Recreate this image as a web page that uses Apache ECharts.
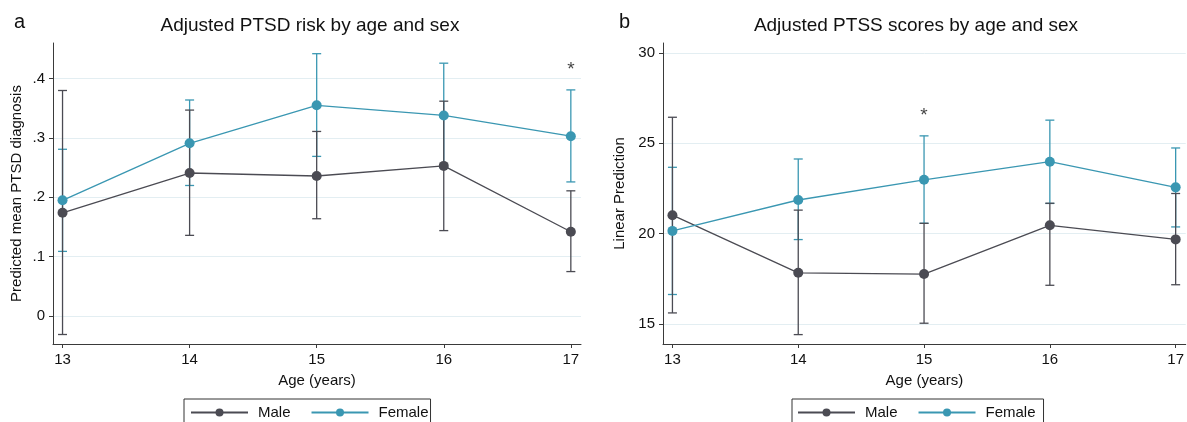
<!DOCTYPE html>
<html>
<head>
<meta charset="utf-8">
<script src="https://cdn.jsdelivr.net/npm/echarts@6/dist/echarts.min.js"></script>
<style>
html,body{margin:0;padding:0;background:#fff;}
#chart{width:1187px;height:422px;}
</style>
</head>
<body>
<div id="chart"></div>
<script>
// ---- data ----
const ages = [13, 14, 15, 16, 17];
const ageTicks = [13, 14, 15, 16, 17];

// Panel a: Adjusted PTSD risk
const ptsdMale     = [0.174, 0.241, 0.236, 0.253, 0.142];
const ptsdMaleLo   = [-0.031, 0.136, 0.164, 0.144, 0.075];
const ptsdMaleHi   = [0.380, 0.347, 0.311, 0.362, 0.211];
const ptsdFemale   = [0.195, 0.291, 0.355, 0.338, 0.303];
const ptsdFemaleLo = [0.109, 0.220, 0.269, 0.250, 0.226];
const ptsdFemaleHi = [0.281, 0.364, 0.442, 0.426, 0.381];
const ptsdTicks = [0, 0.1, 0.2, 0.3, 0.4];
const ptsdStar = [[17, 0.415]];

// Panel b: Adjusted PTSS scores
const ptssMale     = [21.02, 17.83, 17.76, 20.46, 19.68];
const ptssMaleLo   = [15.61, 14.41, 15.04, 17.14, 17.17];
const ptssMaleHi   = [26.44, 21.30, 20.57, 21.68, 22.22];
const ptssFemale   = [20.15, 21.86, 22.98, 23.98, 22.56];
const ptssFemaleLo = [16.63, 19.67, 20.57, 21.67, 20.37];
const ptssFemaleHi = [23.67, 24.13, 25.41, 26.28, 24.74];
const ptssTicks = [15, 20, 25, 30];
const ptssStar = [[15, 26.55]];

// ---- styling ----
const MALE = '#4b4b53';
const FEMALE = '#3a97b2';
const AXIS = '#3a3a3a';
const GRID = '#e3eef2';
const FONT = 'Liberation Sans, Arial, Helvetica, sans-serif';

const pairs = (xs, ys) => xs.map((x, i) => [x, ys[i]]);
const ciData = (xs, lo, hi) => xs.map((x, i) => [x, lo[i], hi[i]]);

function errBar(color) {
  return function (params, api) {
    const x = api.value(0), lo = api.value(1), hi = api.value(2);
    const a = api.coord([x, hi]);
    const b = api.coord([x, lo]);
    const hw = 4.5;
    const st = { stroke: color, lineWidth: 1.3 };
    return {
      type: 'group',
      children: [
        { type: 'line', shape: { x1: a[0], y1: a[1], x2: b[0], y2: b[1] }, style: st },
        { type: 'line', shape: { x1: a[0] - hw, y1: a[1], x2: a[0] + hw, y2: a[1] }, style: st },
        { type: 'line', shape: { x1: b[0] - hw, y1: b[1], x2: b[0] + hw, y2: b[1] }, style: st }
      ]
    };
  };
}

function xAxis(gridIndex) {
  return {
    type: 'value', gridIndex,
    min: 12.925, max: 17.08,
    name: 'Age (years)', nameLocation: 'middle', nameGap: 29,
    nameTextStyle: { fontFamily: FONT, fontSize: 15, color: '#111' },
    axisLine: { show: true, onZero: false, lineStyle: { color: AXIS, width: 1 } },
    axisTick: { show: true, length: 4, customValues: ageTicks, lineStyle: { color: AXIS } },
    axisLabel: { customValues: ageTicks, fontFamily: FONT, fontSize: 15, color: '#111', margin: 8 },
    splitLine: { show: false }
  };
}

function yAxis(gridIndex, min, max, ticks, name, gap, fmt) {
  return {
    type: 'value', gridIndex, min, max,
    name, nameLocation: 'middle', nameGap: gap, nameRotate: 90,
    nameTextStyle: { fontFamily: FONT, fontSize: 15, color: '#111' },
    axisLine: { show: true, onZero: false, lineStyle: { color: AXIS, width: 1 } },
    axisTick: { show: true, length: 4, customValues: ticks, lineStyle: { color: AXIS } },
    axisLabel: { customValues: ticks, fontFamily: FONT, fontSize: 15, color: '#111', margin: 8, formatter: fmt },
    splitLine: { show: true, lineStyle: { color: GRID, width: 1 } }
  };
}

function lineSeries(name, idx, data, color) {
  return {
    type: 'line', name, xAxisIndex: idx, yAxisIndex: idx, data,
    symbol: 'circle', symbolSize: 10, z: 5,
    itemStyle: { color },
    lineStyle: { color, width: 1.3 },
    emphasis: { disabled: true }, animation: false
  };
}

function ciSeries(name, idx, data, color, z) {
  return {
    type: 'custom', name, xAxisIndex: idx, yAxisIndex: idx, data,
    encode: { x: 0, y: [1, 2] }, renderItem: errBar(color), clip: false, z,
    itemStyle: { color }, animation: false
  };
}

function starSeries(idx, data) {
  return {
    type: 'scatter', xAxisIndex: idx, yAxisIndex: idx, data, symbolSize: 0.1, z: 6,
    label: { show: true, position: 'inside', formatter: '*', fontFamily: FONT, fontSize: 19, color: '#111' },
    silent: true, animation: false
  };
}

function legend(left, pad) {
  return {
    left, top: 399,
    data: ['Male', 'Female'],
    orient: 'horizontal',
    itemWidth: 57, itemHeight: 10, itemGap: 20,
    borderColor: '#333', borderWidth: 1, borderRadius: 0,
    padding: pad,
    textStyle: { fontFamily: FONT, fontSize: 15, color: '#111', padding: [0, 0, 0, 5] },
    selectedMode: false
  };
}

const option = {
  backgroundColor: '#fff',
  animation: false,
  title: [
    { text: 'a', left: 9, top: 7, textStyle: { fontFamily: FONT, fontSize: 20, fontWeight: 'normal', color: '#111' } },
    { text: 'b', left: 614, top: 7, textStyle: { fontFamily: FONT, fontSize: 20, fontWeight: 'normal', color: '#111' } },
    { text: 'Adjusted PTSD risk by age and sex', left: 305, textAlign: 'center', top: 11,
      textStyle: { fontFamily: FONT, fontSize: 19, fontWeight: 'normal', color: '#111' } },
    { text: 'Adjusted PTSS scores by age and sex', left: 911, textAlign: 'center', top: 11,
      textStyle: { fontFamily: FONT, fontSize: 19, fontWeight: 'normal', color: '#111' } }
  ],
  legend: [legend(184, [6, 2, 12, 6]), legend(792, [6, 8, 12, 5])],
  grid: [
    { left: 53, top: 43, width: 528, height: 301, containLabel: false },
    { left: 663, top: 43, width: 523, height: 301, containLabel: false }
  ],
  xAxis: [xAxis(0), xAxis(1)],
  yAxis: [
    yAxis(0, -0.047, 0.46, ptsdTicks, 'Predicted mean PTSD diagnosis', 29,
      v => (Math.abs(v) < 1e-9 ? '0' : String(+v.toFixed(1)).replace(/^0/, ''))),
    yAxis(1, 13.89, 30.55, ptssTicks, 'Linear Prediction', 36, v => String(v))
  ],
  series: [
    lineSeries('Male', 0, pairs(ages, ptsdMale), MALE),
    lineSeries('Female', 0, pairs(ages, ptsdFemale), FEMALE),
    ciSeries('Female', 0, ciData(ages, ptsdFemaleLo, ptsdFemaleHi), FEMALE, 3),
    ciSeries('Male', 0, ciData(ages, ptsdMaleLo, ptsdMaleHi), MALE, 4),
    starSeries(0, ptsdStar),
    lineSeries('Male', 1, pairs(ages, ptssMale), MALE),
    lineSeries('Female', 1, pairs(ages, ptssFemale), FEMALE),
    ciSeries('Female', 1, ciData(ages, ptssFemaleLo, ptssFemaleHi), FEMALE, 3),
    ciSeries('Male', 1, ciData(ages, ptssMaleLo, ptssMaleHi), MALE, 4),
    starSeries(1, ptssStar)
  ]
};

const chart = echarts.init(document.getElementById('chart'), null, { renderer: 'canvas' });
chart.setOption(option);
</script>
</body>
</html>
